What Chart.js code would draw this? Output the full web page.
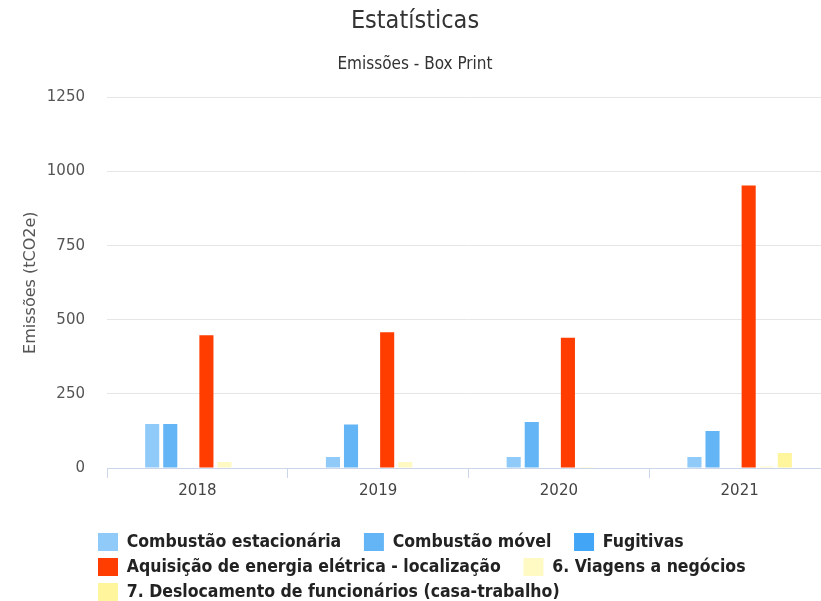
<!DOCTYPE html>
<html>
<head>
<meta charset="utf-8">
<script src="https://cdn.jsdelivr.net/npm/chart.js@4"></script>
<style>
html,body{margin:0;padding:0;background:#fff;overflow:hidden;}
#wrap{width:830px;height:601px;position:relative;}
</style>
</head>
<body>
<div id="wrap"><canvas id="c"></canvas></div>
<script>
const categories = ['2018', '2019', '2020', '2021'];
const combustaoEstacionaria = [148, 37, 37, 37];
const combustaoMovel = [148, 147, 155, 125];
const fugitivas = [0, 0, 0, 0];
const energiaEletrica = [448, 458, 439, 953];
const viagensNegocios = [20, 20, 3, 5];
const deslocamentoFuncionarios = [0, 0, 0, 51];
const yTicks = [0, 250, 500, 750, 1000, 1250];

const seriesNames = ['Combustão estacionária', 'Combustão móvel', 'Fugitivas',
  'Aquisição de energia elétrica - localização', '6. Viagens a negócios',
  '7. Deslocamento de funcionários (casa-trabalho)'];
const seriesData = [combustaoEstacionaria, combustaoMovel, fugitivas, energiaEletrica, viagensNegocios, deslocamentoFuncionarios];
const colors = ['#90CAF9', '#64B5F6', '#42A5F5', '#FF3D00', '#FFF9C4', '#FFF59D'];

const condensed = '"DejaVu Sans Condensed", "Liberation Sans Narrow", "Open Sans", sans-serif';
const axisFont = '"DejaVu Sans", "Liberation Sans", sans-serif';

const legendShift = {
  id: 'legendShift',
  afterLayout(chart) {
    const lg = chart.legend;
    if (lg) {
      const h = lg.bottom - lg.top;
      lg.left = 91; lg.right = 800;
      lg.top = 526; lg.bottom = 526 + h;
    }
  }
};

new Chart(document.getElementById('c'), {
  type: 'bar',
  data: {
    labels: categories,
    datasets: seriesNames.map((n, i) => ({
      label: n,
      data: seriesData[i],
      backgroundColor: colors[i],
      borderWidth: 0,
      categoryPercentage: 0.6,
      barPercentage: 0.78
    }))
  },
  plugins: [legendShift],
  options: {
    responsive: true,
    maintainAspectRatio: false,
    animation: false,
    layout: { padding: { left: 0, right: 0, top: 0, bottom: 8 } },
    plugins: {
      tooltip: { enabled: false },
      title: {
        display: true,
        text: 'Estatísticas',
        color: '#333333',
        font: { family: condensed, size: 25, weight: 'normal' },
        padding: { top: 6, bottom: 18 }
      },
      subtitle: {
        display: true,
        text: 'Emissões - Box Print',
        color: '#333333',
        font: { family: condensed, size: 17, weight: 'normal' },
        padding: { top: 0, bottom: 23 }
      },
      legend: {
        position: 'bottom',
        align: 'start',
        labels: {
          color: '#222222',
          font: { family: condensed, size: 17.5, weight: 'bold' },
          boxWidth: 20,
          boxHeight: 18,
          padding: 7,
          generateLabels(chart) {
            const items = Chart.defaults.plugins.legend.labels.generateLabels(chart);
            items.forEach(it => { it.text = it.text + '\u2002\u2002'; it.lineWidth = 0; });
            return items;
          }
        }
      }
    },
    scales: {
      x: {
        afterFit(scale) { scale.height = 40; },
        grid: {
          display: true,
          drawOnChartArea: false,
          drawTicks: true,
          tickLength: 10,
          color: '#ccd6eb',
          offset: true
        },
        border: { display: true, color: '#ccd6eb' },
        ticks: {
          color: '#444444',
          font: { family: axisFont, size: 15 },
          padding: 4
        }
      },
      y: {
        min: 0,
        max: 1250,
        afterFit(scale) { scale.width = 107; },
        afterBuildTicks(scale) { scale.ticks = yTicks.map(v => ({ value: v })); },
        grid: { color: '#e6e6e6', drawTicks: false },
        border: { display: false },
        ticks: {
          color: '#555555',
          font: { family: axisFont, size: 15 },
          padding: 22,
          callback: v => String(v)
        },
        title: {
          display: true,
          text: 'Emissões (tCO2e)',
          color: '#555555',
          font: { family: axisFont, size: 16 },
          padding: { top: 21, bottom: 4 }
        }
      }
    }
  }
});
</script>
</body>
</html>
